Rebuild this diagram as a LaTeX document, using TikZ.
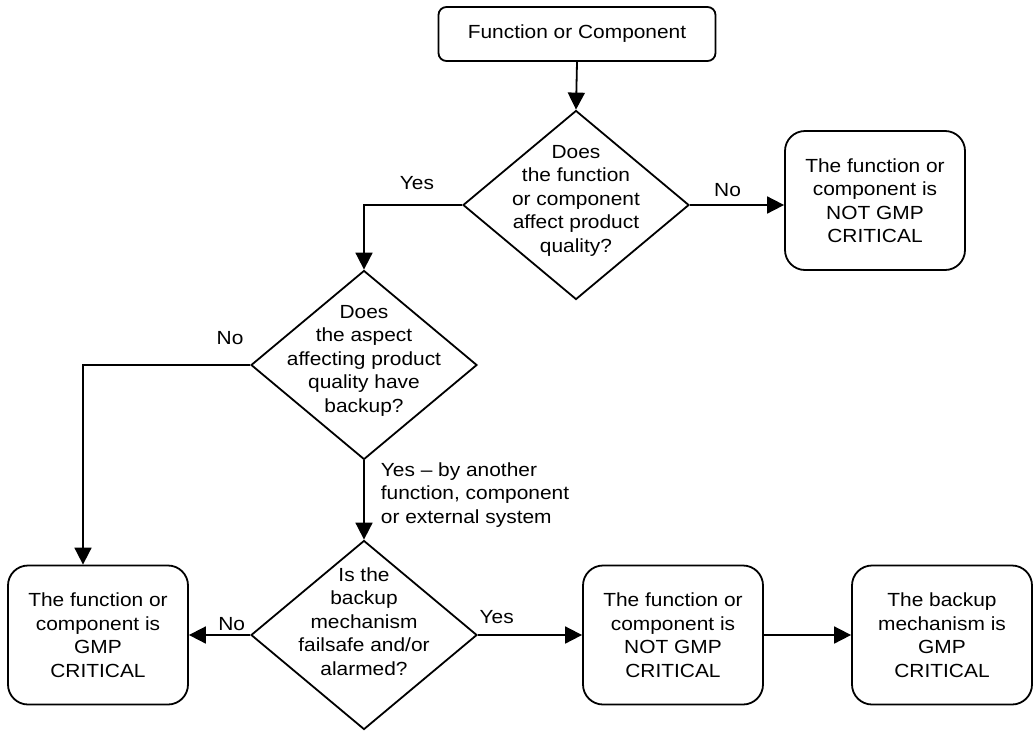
\documentclass[tikz,border=0pt]{standalone}
\usepackage{fontspec}
\setmainfont{Liberation Sans}[FakeStretch=1.1]
\usetikzlibrary{shapes.geometric,arrows.meta}
\tikzset{start node/.style={rectangle,draw,rounded corners=8pt,minimum width=277pt,minimum height=54pt,inner sep=0pt},
         query node/.style={diamond,draw,minimum width=226pt,minimum height=189pt,inner sep=0pt},
         result node/.style={rectangle,draw,rounded corners=20pt,minimum width=180pt,minimum height=139pt,inner sep=0pt,align=center},
         edge label/.style={rectangle,draw=none,fill=none,inner sep=2pt}
}
% diamond text is smashed so the diamond keeps its fixed size
\newcommand{\querytext}[2][0pt]{\smash{\raisebox{#1}{\begin{tabular}{@{}c@{}}#2\end{tabular}}}}

\begin{document}
\begin{tikzpicture}[->,>={Triangle[length=17pt,width=17pt]},
x=1pt, y=-1pt,
line width=1.8pt,
font=\fontsize{19}{23.5}\selectfont]
\useasboundingbox (0,0) rectangle (1035,731);

\node[start node] (start) at (577,34) {Function or Component};
\node[query node] (q1) at (576,205) {\querytext{Does\\the function\\or component\\affect product\\quality?}};
\node[result node] (notcrit1) at (875,200.5) {The function or\\component is\\NOT GMP\\CRITICAL};
\node[query node] (q2) at (364,365) {\querytext{Does\\the aspect\\affecting product\\quality have\\backup?}};
\node[query node] (q3) at (364,635) {\querytext[7pt]{Is the\\backup\\mechanism\\failsafe and/or\\alarmed?}};
\node[result node] (crit1) at (98,635) {The function or\\component is\\GMP\\CRITICAL};
\node[result node] (notcrit2) at (673,635) {The function or\\component is\\NOT GMP\\CRITICAL};
\node[result node] (backupcrit) at (942,635) {The backup\\mechanism is\\GMP\\CRITICAL};

\coordinate (critin) at ([xshift=-15pt]crit1.north);

\draw (start.south) -- (q1.north);
\draw (q1.east) -- (q1.east -| notcrit1.west) node[edge label,pos=0.4,above=5pt] {No};
\draw (q1.west) -| (q2.north) node[edge label,pos=0.23,above=12pt] {Yes};
\draw (q2.west) -| (critin) node[edge label,pos=0.06,above=17pt] {No};
\draw (q2.south) -- (q3.north) node[edge label,midway,right=14pt,yshift=5pt,align=left] {Yes -- by another\\function, component\\or external system};
\draw (q3.west) -- (crit1.east) node[edge label,pos=0.3,above=1pt] {No};
\draw (q3.east) -- (notcrit2.west) node[edge label,pos=0.18,above=8pt] {Yes};
\draw (notcrit2) -- (backupcrit);

\end{tikzpicture}
\end{document}
